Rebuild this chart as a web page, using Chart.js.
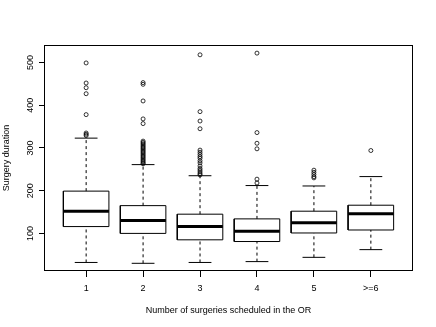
<!DOCTYPE html>
<html lang="en">

<head>
    <meta charset="UTF-8">
    <title>Surgery duration boxplot</title>
    <script src="https://cdn.jsdelivr.net/npm/chart.js"></script>
    <style>
        body { margin: 0; background: white; }
        canvas { display: block; }
    </style>
</head>

<body>
    <canvas id="grafico" width="436" height="327"></canvas>
</body>

</html>

<script>
    var categorias = ['1', '2', '3', '4', '5', '>=6'];
    var bigodeInf = [32, 30, 32, 34, 44, 62];
    var q1 = [116, 100, 85, 81, 101, 108];
    var mediana = [152, 130, 116, 105, 125, 146];
    var q3 = [199, 165, 145, 134, 152, 166];
    var bigodeSup = [323, 261, 235, 212, 211, 233];
    var outliers = [
        [499, 452, 441, 427, 378, 335, 332, 329],
        [453, 449, 410, 368, 357, 316, 313, 310, 307, 304, 301, 298, 295, 292, 289, 286, 283, 280, 277, 274, 271, 268, 265, 263],
        [518, 385, 363, 345, 295, 290, 285, 280, 276, 270, 265, 258, 252, 248, 244, 240, 237],
        [522, 336, 311, 298, 227, 218],
        [248, 243, 238, 233, 230],
        [294]
    ];
    var ticksY = [100, 200, 300, 400, 500];

    var fonte = { family: 'Liberation Sans', size: 9 };
    var meiaCaixa = 0.4;
    var meioBigode = 0.2;

    function linha(pontos, largura, tracejado) {
        return {
            type: 'scatter',
            data: pontos,
            showLine: true,
            borderColor: '#000',
            borderWidth: largura,
            borderDash: tracejado || [],
            pointRadius: 0,
            fill: false,
            tension: 0
        };
    }

    var datasets = [];
    for (let i = 0; i < categorias.length; i++) {
        var x = i + 1;
        // bigodes tracejados
        datasets.push(linha([{ x: x, y: q3[i] }, { x: x, y: bigodeSup[i] }], 1, [3, 3]));
        datasets.push(linha([{ x: x, y: bigodeInf[i] }, { x: x, y: q1[i] }], 1, [3, 3]));
        // extremidades
        datasets.push(linha([{ x: x - meioBigode, y: bigodeSup[i] }, { x: x + meioBigode, y: bigodeSup[i] }], 1));
        datasets.push(linha([{ x: x - meioBigode, y: bigodeInf[i] }, { x: x + meioBigode, y: bigodeInf[i] }], 1));
        // caixa
        datasets.push(linha([
            { x: x - meiaCaixa, y: q1[i] },
            { x: x + meiaCaixa, y: q1[i] },
            { x: x + meiaCaixa, y: q3[i] },
            { x: x - meiaCaixa, y: q3[i] },
            { x: x - meiaCaixa, y: q1[i] }
        ], 1));
        // mediana
        datasets.push(linha([{ x: x - meiaCaixa, y: mediana[i] }, { x: x + meiaCaixa, y: mediana[i] }], 3));
        // outliers
        datasets.push({
            type: 'scatter',
            data: outliers[i].map(function (v) { return { x: x, y: v }; }),
            pointStyle: 'circle',
            pointRadius: 2,
            pointBorderWidth: 0.8,
            borderColor: '#000',
            backgroundColor: 'rgba(0,0,0,0)',
            showLine: false
        });
    }

    // moldura e rótulos do eixo y (verticais, como no R)
    var moldura = {
        id: 'moldura',
        afterDraw: function (chart) {
            var ctx = chart.ctx;
            var a = chart.chartArea;
            ctx.save();
            ctx.strokeStyle = '#000';
            ctx.lineWidth = 1;
            ctx.strokeRect(Math.round(a.left) + 0.5, Math.round(a.top) + 0.5,
                Math.round(a.right - a.left) - 1, Math.round(a.bottom - a.top) - 1);

            var escalaY = chart.scales.y;
            ctx.fillStyle = '#000';
            ctx.font = fonte.size + 'px ' + fonte.family;
            ctx.textAlign = 'center';
            ctx.textBaseline = 'middle';
            ticksY.forEach(function (v) {
                ctx.save();
                ctx.translate(31, escalaY.getPixelForValue(v));
                ctx.rotate(-Math.PI / 2);
                ctx.fillText(String(v), 0, 0);
                ctx.restore();
            });
            ctx.restore();
        }
    };

    var config = {
        type: 'scatter',
        data: { datasets: datasets },
        options: {
            responsive: false,
            animation: false,
            layout: { padding: { top: 45, right: 23, left: 0, bottom: 0 } },
            plugins: {
                legend: { display: false },
                tooltip: { enabled: false }
            },
            scales: {
                x: {
                    type: 'linear',
                    min: 0.26,
                    max: 6.74,
                    afterBuildTicks: function (escala) {
                        escala.ticks = categorias.map(function (c, i) { return { value: i + 1 }; });
                    },
                    afterFit: function (escala) { escala.height = 56; },
                    ticks: {
                        autoSkip: false,
                        maxRotation: 0,
                        padding: 6,
                        font: fonte,
                        color: '#000',
                        callback: function (valor, indice) { return categorias[indice]; }
                    },
                    grid: { drawOnChartArea: false, drawTicks: true, tickLength: 6, color: '#000' },
                    border: { display: false },
                    title: {
                        display: true,
                        text: 'Number of surgeries scheduled in the OR',
                        font: fonte,
                        color: '#000',
                        padding: { top: 0, bottom: 11 }
                    }
                },
                y: {
                    type: 'linear',
                    min: 12,
                    max: 541,
                    afterBuildTicks: function (escala) {
                        escala.ticks = ticksY.map(function (v) { return { value: v }; });
                    },
                    afterFit: function (escala) { escala.width = 44; },
                    ticks: { display: false },
                    grid: { drawOnChartArea: false, drawTicks: true, tickLength: 5, color: '#000' },
                    border: { display: false },
                    title: {
                        display: true,
                        text: 'Surgery duration',
                        font: fonte,
                        color: '#000',
                        padding: { top: 1, bottom: 0 }
                    }
                }
            }
        },
        plugins: [moldura]
    };

    var ctx = document.getElementById('grafico').getContext('2d');
    var meuGrafico = new Chart(ctx, config);
</script>
